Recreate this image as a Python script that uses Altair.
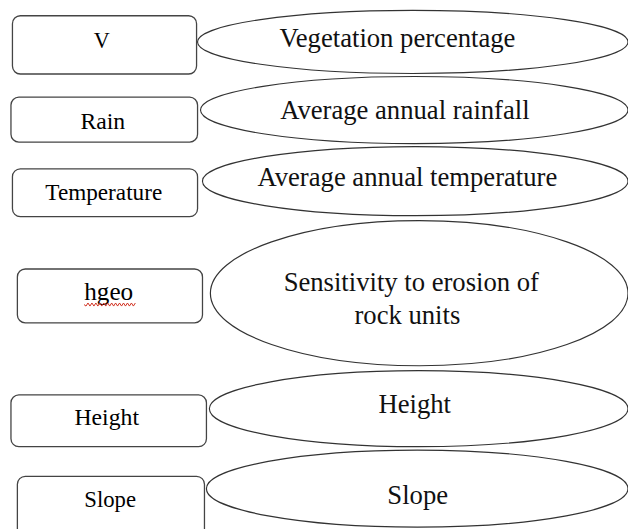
import altair as alt
import pandas as pd

# ---- content ----
box_labels = ["V", "Rain", "Temperature", "hgeo", "Height", "Slope"]
ell_lines = [
    ["Vegetation percentage"],
    ["Average annual rainfall"],
    ["Average annual temperature"],
    ["Sensitivity to erosion of", "rock units"],
    ["Height"],
    ["Slope"],
]

# ---- layout (page pixel coordinates) ----
box_x0 = [12.5, 11, 12.5, 17.5, 11, 17.5]
box_x1 = [199, 200, 200, 205, 209, 207]
box_y0 = [12.5, 95, 167.5, 269, 396.5, 479]
box_y1 = [71.5, 140.5, 216, 323.5, 449, 545]
box_text_x = [103, 104, 105, 110, 108, 111.5]
box_text_y = [45, 127.5, 199, 300.5, 427, 510]
box_font = [22.5, 24, 23.5, 25.5, 24, 23]

ell_cx = [418, 419.5, 420.5, 424.5, 424, 422.5]
ell_cy = [39, 108, 180, 293.5, 410.5, 491.5]
ell_rx = [218, 216.5, 215.5, 211.5, 212, 213.5]
ell_ry = [32, 34, 35, 73.5, 38.5, 39]
ell_text_x = [[402.5], [410], [412.5], [416.5, 412.5], [420], [423]]
ell_text_y = [[44], [117], [185], [291.5, 325], [415], [507]]

squiggle_x = [111]
squiggle_y = [305]
squiggle_w = 52

W, H = 628, 521
XD = [8, 636]
YD = [8, 529]


def ellipse_path(ratio):
    k = 0.5523
    a = ratio
    return (f"M -1 0 C -1 {-k*a:.4f} {-k:.4f} {-a:.4f} 0 {-a:.4f} "
            f"C {k:.4f} {-a:.4f} 1 {-k*a:.4f} 1 0 "
            f"C 1 {k*a:.4f} {k:.4f} {a:.4f} 0 {a:.4f} "
            f"C {-k:.4f} {a:.4f} -1 {k*a:.4f} -1 0 Z")


def squiggle_path(n=13, amp=0.06):
    pts = ["M -1 0"]
    steps = n * 2
    for i in range(1, steps + 1):
        x = -1 + 2 * i / steps
        y = amp if i % 2 else -amp
        pts.append(f"L {x:.4f} {y:.4f}")
    return " ".join(pts)


xs = alt.Scale(domain=XD, nice=False, zero=False)
ys = alt.Scale(domain=YD, nice=False, zero=False, reverse=True)

boxes = pd.DataFrame({
    "label": box_labels, "x0": box_x0, "x1": box_x1, "y0": box_y0, "y1": box_y1,
    "tx": box_text_x, "ty": box_text_y, "fs": box_font,
})

ell_ids = [f"e{i}" for i in range(len(ell_cx))]
ells = pd.DataFrame({
    "id": ell_ids, "cx": ell_cx, "cy": ell_cy,
    "sz": [(2 * r) ** 2 for r in ell_rx],
})
ell_paths = [ellipse_path(ry / rx) for rx, ry in zip(ell_rx, ell_ry)]

rows = []
for lines, txs, tys in zip(ell_lines, ell_text_x, ell_text_y):
    for t, x, y in zip(lines, txs, tys):
        rows.append({"text": t, "x": x, "y": y})
ell_text = pd.DataFrame(rows)

sq = pd.DataFrame({"x": squiggle_x, "y": squiggle_y})

box_layer = alt.Chart(boxes).mark_rect(
    fill="white", stroke="#444444", strokeWidth=1.3, cornerRadius=8
).encode(
    x=alt.X("x0:Q", scale=xs, axis=None), x2="x1:Q",
    y=alt.Y("y0:Q", scale=ys, axis=None), y2="y1:Q",
)

box_text = alt.Chart(boxes).mark_text(
    font="Liberation Serif", align="center", baseline="alphabetic", color="#000000"
).encode(
    x=alt.X("tx:Q", scale=xs, axis=None),
    y=alt.Y("ty:Q", scale=ys, axis=None),
    text="label:N",
    size=alt.Size("fs:Q", scale=None, legend=None),
)

ell_layer = alt.Chart(ells).mark_point(
    filled=False, fill="white", fillOpacity=1, stroke="#333333", strokeWidth=1.2, opacity=1
).encode(
    x=alt.X("cx:Q", scale=xs, axis=None),
    y=alt.Y("cy:Q", scale=ys, axis=None),
    shape=alt.Shape("id:N", scale=alt.Scale(domain=ell_ids, range=ell_paths), legend=None),
    size=alt.Size("sz:Q", scale=None, legend=None),
)

ell_txt = alt.Chart(ell_text).mark_text(
    font="Liberation Serif", fontSize=27, align="center", baseline="alphabetic", color="#111111"
).encode(
    x=alt.X("x:Q", scale=xs, axis=None),
    y=alt.Y("y:Q", scale=ys, axis=None),
    text="text:N",
)

squiggle = alt.Chart(sq).mark_point(
    filled=False, stroke="#d03020", strokeWidth=1, opacity=1,
    shape=squiggle_path(), size=squiggle_w ** 2
).encode(
    x=alt.X("x:Q", scale=xs, axis=None),
    y=alt.Y("y:Q", scale=ys, axis=None),
)

chart = alt.layer(ell_layer, box_layer, box_text, ell_txt, squiggle).properties(
    width=W, height=H,
    autosize=alt.AutoSizeParams(type="none"),
    padding=0,
    background="white",
).configure_view(stroke=None)

chart.save("out.html", embed_options={"renderer": "svg", "actions": False})
